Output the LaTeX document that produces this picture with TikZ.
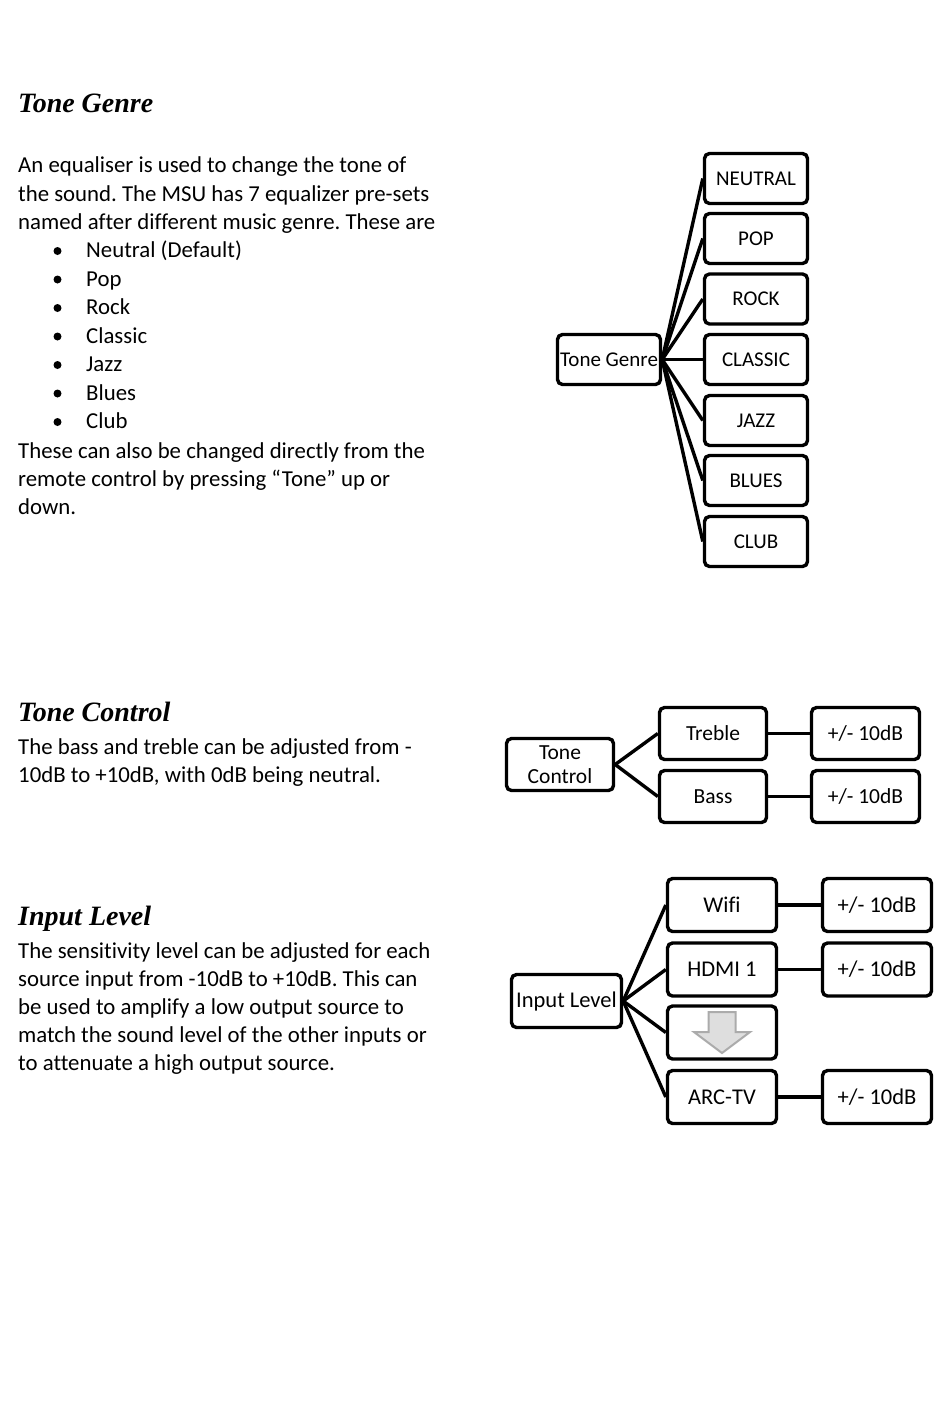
\documentclass[tikz,border=0pt]{standalone}
\usepackage{fontspec}
\setmainfont{Carlito}[Ligatures=NoCommon]
\newfontfamily\headfont{Liberation Serif}
\frenchspacing
\begin{document}
\begin{tikzpicture}[x=1pt,y=-1pt,
  box/.style={draw,line width=3.4pt,rounded corners=5pt,inner sep=0pt,align=center},
  gbox/.style={box,minimum width=103pt,minimum height=50pt,font=\fontsize{21}{23}\selectfont},
  tbox/.style={box,minimum width=107pt,minimum height=52pt,font=\fontsize{21.5}{23.5}\selectfont},
  ibox/.style={box,minimum width=109pt,minimum height=53pt,font=\fontsize{22.5}{24}\selectfont},
  body/.style={anchor=base west,inner sep=0pt,font=\fontsize{22.8}{26}\selectfont},
  dot/.style={circle,fill,inner sep=0pt,minimum size=8pt},
  head/.style={anchor=base west,inner sep=0pt,font=\headfont\bfseries\itshape\fontsize{28}{30}\selectfont},
  link/.style={line width=3.4pt}]
\useasboundingbox[fill=white] (0,0) rectangle (950,1419);

% ---------- Tone Genre text ----------
\node[head] (h1) at (18,112) {Tone Genre};
\node[body] (t1) at (18,172.5) {An equaliser is used to change the tone of};
\node[body] (t2) at (18,201) {the sound. The MSU has 7 equalizer pre-sets};
\node[body] (t3) at (18,229) {named after different music genre. These are};
\foreach \y/\w [count=\i] in {257.5/Neutral (Default),286/Pop,314.5/Rock,343/Classic,371.5/Jazz,400/Blues,428.5/Club}{
  \node[dot] (bd\i) at (57.5,\y-6.5) {};
  \node[body] (bl\i) at (86,\y) {\w};
}
\node[body] (t4) at (18,458) {These can also be changed directly from the};
\node[body] (t5) at (18,486) {remote control by pressing “Tone” up or};
\node[body] (t6) at (18,514) {down.};

% ---------- Tone Genre diagram ----------
\node[gbox] (tg) at (609,359.5) {Tone Genre};
\foreach \n/\t/\y in {neu/NEUTRAL/178.5,pop/POP/238.5,rock/ROCK/299,cla/CLASSIC/359.5,jazz/JAZZ/420.5,blu/BLUES/480.5,club/CLUB/541.5}{
  \node[gbox] (\n) at (756,\y) {\t};
  \draw[link] (tg.east) -- (\n.west);
}

% ---------- Tone Control text ----------
\node[head] (h2) at (18,721) {Tone Control};
\node[body] (c1) at (18,754.5) {The bass and treble can be adjusted from -};
\node[body] (c2) at (18,782.5) {10dB to +10dB, with 0dB being neutral.};

% ---------- Tone Control diagram ----------
\node[tbox,minimum width=107pt] (tc) at (560,764.5) {Tone\\Control};
\node[tbox] (tre) at (713,733.5) {Treble};
\node[tbox] (bas) at (713,796.5) {Bass};
\node[tbox,minimum width=108pt] (tre2) at (865.5,733.5) {+/- 10dB};
\node[tbox,minimum width=108pt] (bas2) at (865.5,796.5) {+/- 10dB};
\draw[link] (tc.east) -- (tre.west);
\draw[link] (tc.east) -- (bas.west);
\draw[link] (tre.east) -- (tre2.west);
\draw[link] (bas.east) -- (bas2.west);

% ---------- Input Level text ----------
\node[head] (h3) at (18,925) {Input Level};
\node[body] (i1) at (18,958.5) {The sensitivity level can be adjusted for each};
\node[body] (i2) at (18,986.5) {source input from -10dB to +10dB. This can};
\node[body] (i3) at (18,1014.5) {be used to amplify a low output source to};
\node[body] (i4) at (18,1042.5) {match the sound level of the other inputs or};
\node[body] (i5) at (18,1070.5) {to attenuate a high output source.};

% ---------- Input Level diagram ----------
\node[ibox,minimum width=110pt] (il) at (566.5,1001) {Input Level};
\node[ibox] (wifi) at (722,905) {Wifi};
\node[ibox] (hdmi) at (722,969.5) {HDMI 1};
\node[ibox] (more) at (722,1032.5) {};
\node[ibox] (arc) at (722,1097) {ARC-TV};
\node[ibox] (wifi2) at (877,905) {+/- 10dB};
\node[ibox] (hdmi2) at (877,969.5) {+/- 10dB};
\node[ibox] (arc2) at (877,1097) {+/- 10dB};
\foreach \n in {wifi,hdmi,more,arc}{\draw[link] (il.east) -- (\n.west);}
\draw[link] (wifi.east) -- (wifi2.west);
\draw[link] (hdmi.east) -- (hdmi2.west);
\draw[link] (arc.east) -- (arc2.west);
% grey down arrow
\draw[fill=black!13,draw=black!33,line width=2pt,line join=miter]
  (708.5,1012) -- (735.5,1012) -- (735.5,1032) -- (750,1032) -- (722,1053)
  -- (694,1032) -- (708.5,1032) -- cycle;
\end{tikzpicture}
\end{document}
